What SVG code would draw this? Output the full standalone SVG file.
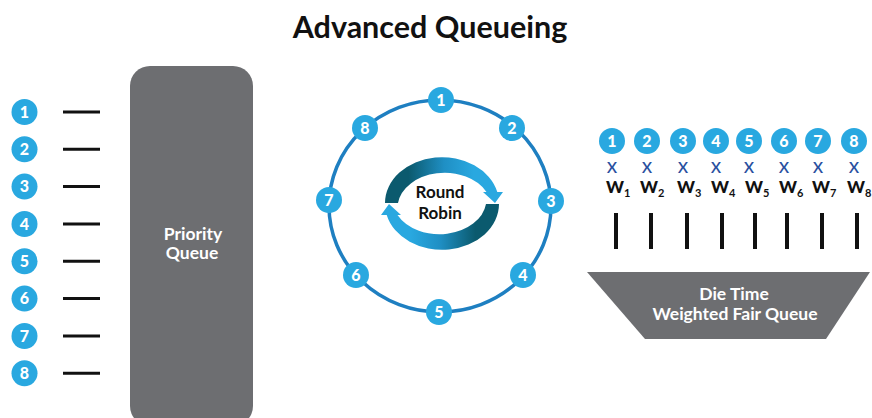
<svg xmlns="http://www.w3.org/2000/svg" width="872" height="418" viewBox="0 0 872 418">
  <defs>
    <style>
      .title { font-family: Lato, "Liberation Sans", sans-serif; font-weight: 700; font-size: 30.5px; fill: #111; }
      .dot { fill: #29a8e0; }
      .num { font-family: Lato, "Liberation Sans", sans-serif; font-weight: 900; font-size: 16px; fill: #fff; text-anchor: middle; }
      .bar { stroke: #111; stroke-width: 3; }
      .vbar { stroke: #111; stroke-width: 4; }
      .gray { fill: #6d6e71; }
      .boxtxt { font-family: Lato, "Liberation Sans", sans-serif; font-weight: 700; font-size: 17.5px; fill: #fff; text-anchor: middle; }
      .rr { font-family: Lato, "Liberation Sans", sans-serif; font-weight: 700; font-size: 17px; fill: #111; text-anchor: middle; }
      .x { font-family: Lato, "Liberation Sans", sans-serif; font-size: 21px; fill: #2a4fa0; text-anchor: middle; }
      .w { font-family: Lato, "Liberation Sans", sans-serif; font-weight: 900; font-size: 17px; fill: #111; }
      .sub { font-size: 11px; font-weight: 700; }
    </style>
    <linearGradient id="swirl" x1="0" y1="0" x2="1" y2="0">
      <stop offset="0.2" stop-color="#0b5a6e"/>
      <stop offset="0.5" stop-color="#1f8fc4"/>
      <stop offset="0.75" stop-color="#29a8e0"/>
    </linearGradient>
    <g id="swirlArrow">
      <path d="M -57 0 A 57 46 0 0 1 55.3 -11 L 61 -11 L 53 0 L 41 -11 L 44.5 -11 A 47 35 0 0 0 -44 0 Z" fill="url(#swirl)"/>
    </g>
  </defs>

  <rect width="872" height="418" fill="#fff"/>

  <text class="title" x="430" y="38" text-anchor="middle">Advanced Queueing</text>

  <!-- Priority queue: eight inputs feeding one tall block -->
  <g id="priority-queue">
    <rect class="gray" x="130" y="66" width="123" height="360" rx="20"/>
    <text class="boxtxt" x="193" y="240">Priority</text>
    <text class="boxtxt" x="192" y="259">Queue</text>
  </g>
  <g id="pq-inputs">
    <g id="pq-1"><circle class="dot" cx="24.5" cy="112" r="13"/><text class="num" x="24.5" y="117.5">1</text><line class="bar" x1="63" y1="112" x2="100" y2="112"/></g>
    <g id="pq-2"><circle class="dot" cx="24.5" cy="149.3" r="13"/><text class="num" x="24.5" y="154.8">2</text><line class="bar" x1="63" y1="149.3" x2="100" y2="149.3"/></g>
    <g id="pq-3"><circle class="dot" cx="24.5" cy="186.6" r="13"/><text class="num" x="24.5" y="192.1">3</text><line class="bar" x1="63" y1="186.6" x2="100" y2="186.6"/></g>
    <g id="pq-4"><circle class="dot" cx="24.5" cy="224" r="13"/><text class="num" x="24.5" y="229.5">4</text><line class="bar" x1="63" y1="224" x2="100" y2="224"/></g>
    <g id="pq-5"><circle class="dot" cx="24.5" cy="261.3" r="13"/><text class="num" x="24.5" y="266.8">5</text><line class="bar" x1="63" y1="261.3" x2="100" y2="261.3"/></g>
    <g id="pq-6"><circle class="dot" cx="24.5" cy="298.6" r="13"/><text class="num" x="24.5" y="304.1">6</text><line class="bar" x1="63" y1="298.6" x2="100" y2="298.6"/></g>
    <g id="pq-7"><circle class="dot" cx="24.5" cy="336" r="13"/><text class="num" x="24.5" y="341.5">7</text><line class="bar" x1="63" y1="336" x2="100" y2="336"/></g>
    <g id="pq-8"><circle class="dot" cx="24.5" cy="373.3" r="13"/><text class="num" x="24.5" y="378.8">8</text><line class="bar" x1="63" y1="373.3" x2="100" y2="373.3"/></g>
  </g>

  <!-- Round robin ring -->
  <g id="connectors">
    <ellipse cx="440" cy="206" rx="111" ry="106" fill="none" stroke="#1e7fc1" stroke-width="3.5"/>
  </g>
  <g id="round-robin">
    <use href="#swirlArrow" transform="translate(442 203)"/>
    <use href="#swirlArrow" transform="translate(442 204) rotate(180)"/>
    <text class="rr" x="440" y="198">Round</text>
    <text class="rr" x="440" y="219">Robin</text>
  </g>
  <g id="rr-1"><circle class="dot" cx="441" cy="100" r="13"/><text class="num" x="441" y="105.5">1</text></g>
  <g id="rr-2"><circle class="dot" cx="512" cy="128" r="13"/><text class="num" x="512" y="133.5">2</text></g>
  <g id="rr-3"><circle class="dot" cx="551" cy="201" r="13"/><text class="num" x="551" y="206.5">3</text></g>
  <g id="rr-4"><circle class="dot" cx="523" cy="275" r="13"/><text class="num" x="523" y="280.5">4</text></g>
  <g id="rr-5"><circle class="dot" cx="439" cy="312" r="13"/><text class="num" x="439" y="317.5">5</text></g>
  <g id="rr-6"><circle class="dot" cx="356" cy="275" r="13"/><text class="num" x="356" y="280.5">6</text></g>
  <g id="rr-7"><circle class="dot" cx="329" cy="200" r="13"/><text class="num" x="329" y="205.5">7</text></g>
  <g id="rr-8"><circle class="dot" cx="365" cy="128" r="13"/><text class="num" x="365" y="133.5">8</text></g>

  <!-- Weighted fair queue -->
  <g id="wfq-inputs">
    <g id="wfq-1"><circle class="dot" cx="612" cy="141" r="13"/><text class="num" x="612" y="146.5">1</text><text class="x" x="612" y="173">x</text><text class="w" x="606" y="193">W<tspan class="sub" dy="4">1</tspan></text><line class="vbar" x1="616" y1="213" x2="616" y2="249"/></g>
    <g id="wfq-2"><circle class="dot" cx="647" cy="141" r="13"/><text class="num" x="647" y="146.5">2</text><text class="x" x="647" y="173">x</text><text class="w" x="640" y="193">W<tspan class="sub" dy="4">2</tspan></text><line class="vbar" x1="651" y1="213" x2="651" y2="249"/></g>
    <g id="wfq-3"><circle class="dot" cx="683" cy="141" r="13"/><text class="num" x="683" y="146.5">3</text><text class="x" x="683" y="173">x</text><text class="w" x="677" y="193">W<tspan class="sub" dy="4">3</tspan></text><line class="vbar" x1="687" y1="213" x2="687" y2="249"/></g>
    <g id="wfq-4"><circle class="dot" cx="716" cy="141" r="13"/><text class="num" x="716" y="146.5">4</text><text class="x" x="716" y="173">x</text><text class="w" x="711" y="193">W<tspan class="sub" dy="4">4</tspan></text><line class="vbar" x1="722" y1="213" x2="722" y2="249"/></g>
    <g id="wfq-5"><circle class="dot" cx="749" cy="141" r="13"/><text class="num" x="749" y="146.5">5</text><text class="x" x="749" y="173">x</text><text class="w" x="745" y="193">W<tspan class="sub" dy="4">5</tspan></text><line class="vbar" x1="755" y1="213" x2="755" y2="249"/></g>
    <g id="wfq-6"><circle class="dot" cx="784" cy="141" r="13"/><text class="num" x="784" y="146.5">6</text><text class="x" x="784" y="173">x</text><text class="w" x="779" y="193">W<tspan class="sub" dy="4">6</tspan></text><line class="vbar" x1="787" y1="213" x2="787" y2="249"/></g>
    <g id="wfq-7"><circle class="dot" cx="818" cy="141" r="13"/><text class="num" x="818" y="146.5">7</text><text class="x" x="818" y="173">x</text><text class="w" x="812" y="193">W<tspan class="sub" dy="4">7</tspan></text><line class="vbar" x1="822" y1="213" x2="822" y2="249"/></g>
    <g id="wfq-8"><circle class="dot" cx="854" cy="141" r="13"/><text class="num" x="854" y="146.5">8</text><text class="x" x="854" y="173">x</text><text class="w" x="847" y="193">W<tspan class="sub" dy="4">8</tspan></text><line class="vbar" x1="857" y1="213" x2="857" y2="249"/></g>
  </g>
  <g id="wfq">
    <polygon class="gray" points="587,272 870,272 826,339 645,339"/>
    <text class="boxtxt" x="734" y="300">Die Time</text>
    <text class="boxtxt" x="735" y="320">Weighted Fair Queue</text>
  </g>
</svg>
